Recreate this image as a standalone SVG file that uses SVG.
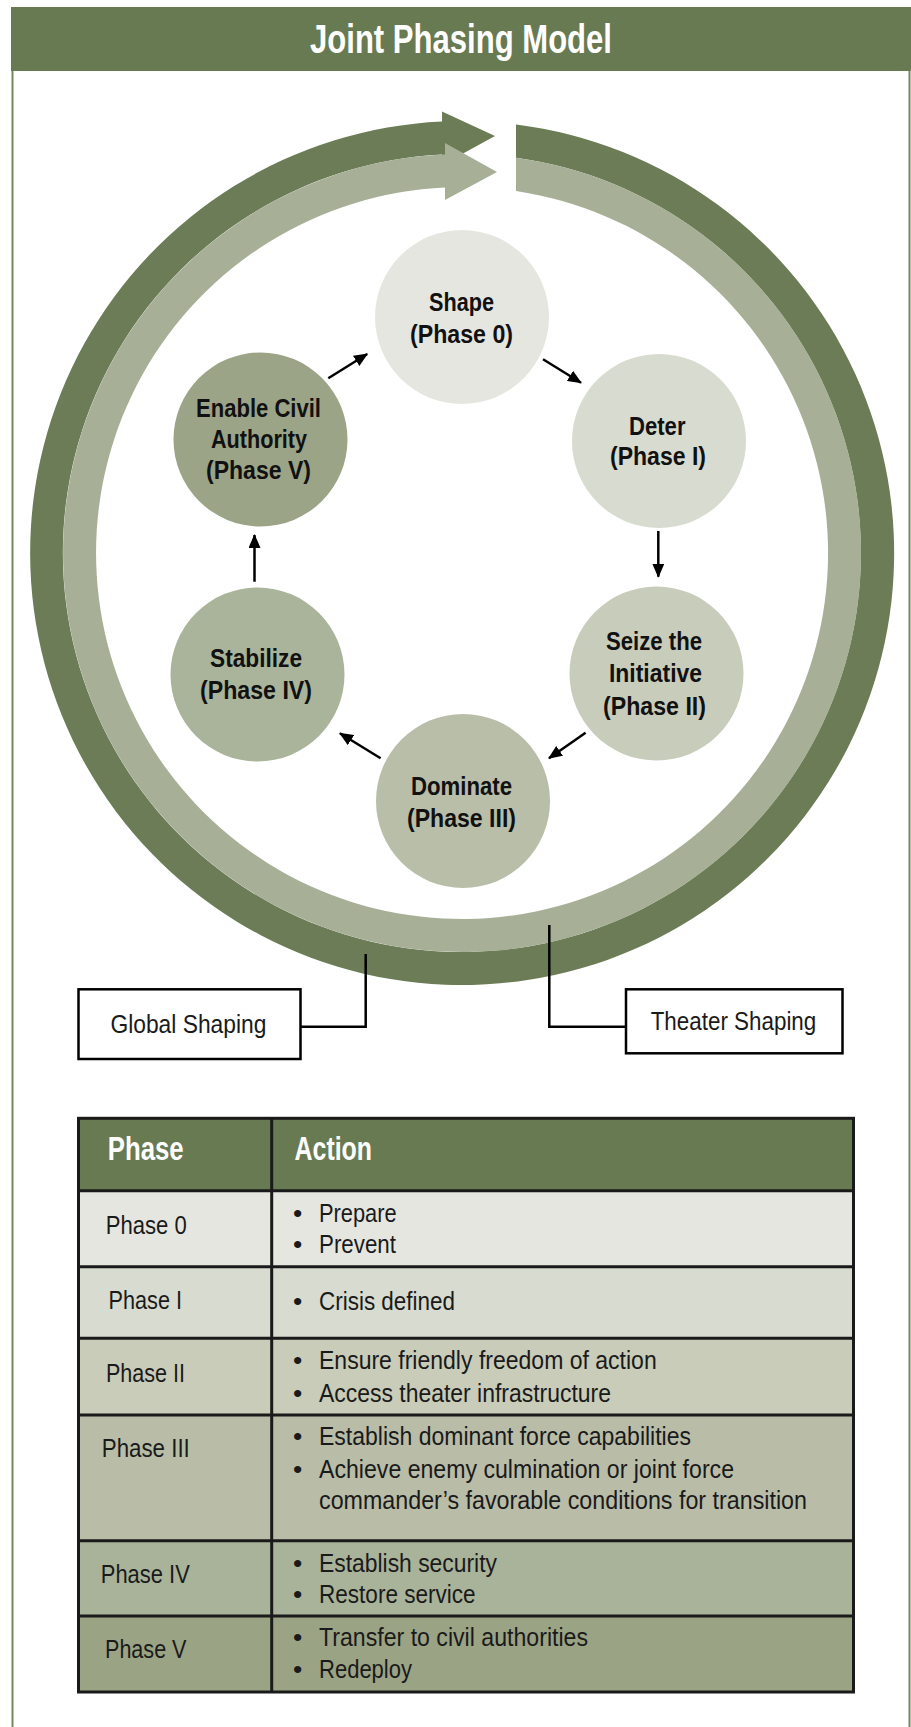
<svg xmlns="http://www.w3.org/2000/svg" width="911" height="1727" viewBox="0 0 911 1727">
<defs>
<marker id="ah" markerUnits="userSpaceOnUse" markerWidth="14" markerHeight="12" refX="13" refY="6" orient="auto"><path d="M0,0 L14,6 L0,12 z" fill="#000"/></marker>
<style>
.f{font-family:"Liberation Sans",Arial,sans-serif;}
.nt{font-family:"Liberation Sans",Arial,sans-serif;font-weight:bold;font-size:25px;fill:#111;}
.bt{font-family:"Liberation Sans",Arial,sans-serif;font-size:26.5px;fill:#1a1a1a;}
.hd{font-family:"Liberation Sans",Arial,sans-serif;font-weight:bold;font-size:33px;fill:#fff;}
.conn{stroke:#000;stroke-width:2.5;fill:none;}
.grid{stroke:#1a1a1a;stroke-width:3;fill:none;}
.box{stroke:#000;stroke-width:2.5;fill:#fff;}
</style>
</defs>
<rect x="0" y="0" width="911" height="1727" fill="#fff"/>
<g id="frame">
<line x1="12.5" y1="70" x2="12.5" y2="1727" stroke="#76875f" stroke-width="2"/>
<line x1="909.5" y1="70" x2="909.5" y2="1727" stroke="#76875f" stroke-width="2"/>
<rect x="11" y="7" width="900" height="64" fill="#687a52"/>
<text class="f" x="310" y="52.7" font-size="40" font-weight="bold" fill="#fff" textLength="302" lengthAdjust="spacingAndGlyphs">Joint Phasing Model</text>
</g>
<g id="ring">
<path id="global-arrow" d="M516,124.4 A432,432 0 1 1 442,121.5 L442,111.5 L495,136 L442,165 L442,154.5 A399,399 0 1 0 516,157.7 Z" fill="#6b7c56"/>
<path id="theater-arrow" d="M516,157.7 A399,399 0 1 1 445,154.4 L445,143 L497,172 L445,200 L445,187.4 A366,366 0 1 0 516,191 Z" fill="#a7b097"/>
</g>
<g id="connectors">
<line class="conn" x1="543" y1="359.3" x2="581" y2="382.7" marker-end="url(#ah)"/>
<line class="conn" x1="658.3" y1="531" x2="658.3" y2="576.7" marker-end="url(#ah)"/>
<line class="conn" x1="585.6" y1="732.7" x2="549" y2="758.3" marker-end="url(#ah)"/>
<line class="conn" x1="380.6" y1="758.3" x2="339.9" y2="733.3" marker-end="url(#ah)"/>
<line class="conn" x1="254.5" y1="581.7" x2="254.5" y2="535" marker-end="url(#ah)"/>
<line class="conn" x1="328.3" y1="378.3" x2="367.2" y2="354" marker-end="url(#ah)"/>
<polyline class="conn" points="300,1026.7 365.7,1026.7 365.7,954"/>
<polyline class="conn" points="626,1026.7 549.3,1026.7 549.3,925"/>
</g>
<g id="shape">
<circle cx="462" cy="317" r="87" fill="#e6e6e1"/>
<text class="nt" x="429" y="310.7" textLength="65" lengthAdjust="spacingAndGlyphs">Shape</text>
<text class="nt" x="410" y="342.7" textLength="103" lengthAdjust="spacingAndGlyphs">(Phase 0)</text>
</g>
<g id="deter">
<circle cx="659" cy="441" r="87" fill="#d8dbcf"/>
<text class="nt" x="629" y="435" textLength="56.5" lengthAdjust="spacingAndGlyphs">Deter</text>
<text class="nt" x="610" y="465" textLength="96" lengthAdjust="spacingAndGlyphs">(Phase I)</text>
</g>
<g id="seize">
<circle cx="656.5" cy="673.5" r="87" fill="#c8ccba"/>
<text class="nt" x="606" y="650" textLength="96" lengthAdjust="spacingAndGlyphs">Seize the</text>
<text class="nt" x="609" y="681.7" textLength="93" lengthAdjust="spacingAndGlyphs">Initiative</text>
<text class="nt" x="603" y="715" textLength="103" lengthAdjust="spacingAndGlyphs">(Phase II)</text>
</g>
<g id="dominate">
<circle cx="463" cy="801" r="87" fill="#b9bea9"/>
<text class="nt" x="411" y="795" textLength="101" lengthAdjust="spacingAndGlyphs">Dominate</text>
<text class="nt" x="407" y="826.7" textLength="109" lengthAdjust="spacingAndGlyphs">(Phase III)</text>
</g>
<g id="stabilize">
<circle cx="257.5" cy="674.5" r="87" fill="#aab49b"/>
<text class="nt" x="210" y="667.3" textLength="92" lengthAdjust="spacingAndGlyphs">Stabilize</text>
<text class="nt" x="200" y="699" textLength="112" lengthAdjust="spacingAndGlyphs">(Phase IV)</text>
</g>
<g id="enable">
<circle cx="260.5" cy="439.5" r="87" fill="#9ba487"/>
<text class="nt" x="196" y="416.5" textLength="125" lengthAdjust="spacingAndGlyphs">Enable Civil</text>
<text class="nt" x="211" y="447.5" textLength="96" lengthAdjust="spacingAndGlyphs">Authority</text>
<text class="nt" x="206" y="478.5" textLength="105" lengthAdjust="spacingAndGlyphs">(Phase V)</text>
</g>
<g id="global-shaping">
<rect class="box" x="78.5" y="989.3" width="222" height="69.7"/>
<text class="bt" x="110.4" y="1033" textLength="156" lengthAdjust="spacingAndGlyphs" fill="#000">Global Shaping</text>
</g>
<g id="theater-shaping">
<rect class="box" x="626" y="989.3" width="216.5" height="64"/>
<text class="bt" x="650.7" y="1030" textLength="165.6" lengthAdjust="spacingAndGlyphs" fill="#000">Theater Shaping</text>
</g>
<g id="table">
<rect x="78.5" y="1118.3" width="775" height="72.4" fill="#687a52"/>
<rect x="78.5" y="1190.7" width="775" height="76" fill="#e6e6e1"/>
<rect x="78.5" y="1266.7" width="775" height="71.6" fill="#d8dbcf"/>
<rect x="78.5" y="1338.3" width="775" height="76.7" fill="#c8ccb9"/>
<rect x="78.5" y="1415" width="775" height="125.7" fill="#b9bda8"/>
<rect x="78.5" y="1540.7" width="775" height="75.3" fill="#a9b39a"/>
<rect x="78.5" y="1616" width="775" height="76" fill="#9ba385"/>
<rect class="grid" x="78.5" y="1118.3" width="775" height="573.7"/>
<line class="grid" x1="78.5" y1="1190.7" x2="853.5" y2="1190.7"/>
<line class="grid" x1="78.5" y1="1266.7" x2="853.5" y2="1266.7"/>
<line class="grid" x1="78.5" y1="1338.3" x2="853.5" y2="1338.3"/>
<line class="grid" x1="78.5" y1="1415" x2="853.5" y2="1415"/>
<line class="grid" x1="78.5" y1="1540.7" x2="853.5" y2="1540.7"/>
<line class="grid" x1="78.5" y1="1616" x2="853.5" y2="1616"/>
<line class="grid" x1="271.7" y1="1118.3" x2="271.7" y2="1692"/>
<text class="hd" x="107.7" y="1160" textLength="76" lengthAdjust="spacingAndGlyphs">Phase</text>
<text class="hd" x="294.6" y="1160" textLength="77.4" lengthAdjust="spacingAndGlyphs">Action</text>
<text class="bt" x="105.7" y="1234" textLength="81" lengthAdjust="spacingAndGlyphs">Phase 0</text>
<text class="bt" x="108.5" y="1309.3" textLength="73.5" lengthAdjust="spacingAndGlyphs">Phase I</text>
<text class="bt" x="106" y="1381.7" textLength="79" lengthAdjust="spacingAndGlyphs">Phase II</text>
<text class="bt" x="101.8" y="1457.3" textLength="88" lengthAdjust="spacingAndGlyphs">Phase III</text>
<text class="bt" x="100.8" y="1582.7" textLength="89" lengthAdjust="spacingAndGlyphs">Phase IV</text>
<text class="bt" x="105" y="1658.3" textLength="81.5" lengthAdjust="spacingAndGlyphs">Phase V</text>
<g class="bt">
<text x="293" y="1221.7">•</text><text x="319" y="1221.7" textLength="77.6" lengthAdjust="spacingAndGlyphs">Prepare</text>
<text x="293" y="1253">•</text><text x="319" y="1253" textLength="77" lengthAdjust="spacingAndGlyphs">Prevent</text>
<text x="293" y="1310">•</text><text x="319" y="1310" textLength="136" lengthAdjust="spacingAndGlyphs">Crisis defined</text>
<text x="293" y="1369">•</text><text x="319" y="1369" textLength="337.7" lengthAdjust="spacingAndGlyphs">Ensure friendly freedom of action</text>
<text x="293" y="1401.7">•</text><text x="319" y="1401.7" textLength="292" lengthAdjust="spacingAndGlyphs">Access theater infrastructure</text>
<text x="293" y="1445">•</text><text x="319" y="1445" textLength="372" lengthAdjust="spacingAndGlyphs">Establish dominant force capabilities</text>
<text x="293" y="1477.7">•</text><text x="319" y="1477.7" textLength="415" lengthAdjust="spacingAndGlyphs">Achieve enemy culmination or joint force</text>
<text x="319" y="1509.3" textLength="488" lengthAdjust="spacingAndGlyphs">commander’s favorable conditions for transition</text>
<text x="293" y="1571.7">•</text><text x="319" y="1571.7" textLength="178" lengthAdjust="spacingAndGlyphs">Establish security</text>
<text x="293" y="1603.3">•</text><text x="319" y="1603.3" textLength="156.6" lengthAdjust="spacingAndGlyphs">Restore service</text>
<text x="293" y="1646">•</text><text x="319" y="1646" textLength="269" lengthAdjust="spacingAndGlyphs">Transfer to civil authorities</text>
<text x="293" y="1678.3">•</text><text x="319" y="1678.3" textLength="93" lengthAdjust="spacingAndGlyphs">Redeploy</text>
</g>
</g>
</svg>
